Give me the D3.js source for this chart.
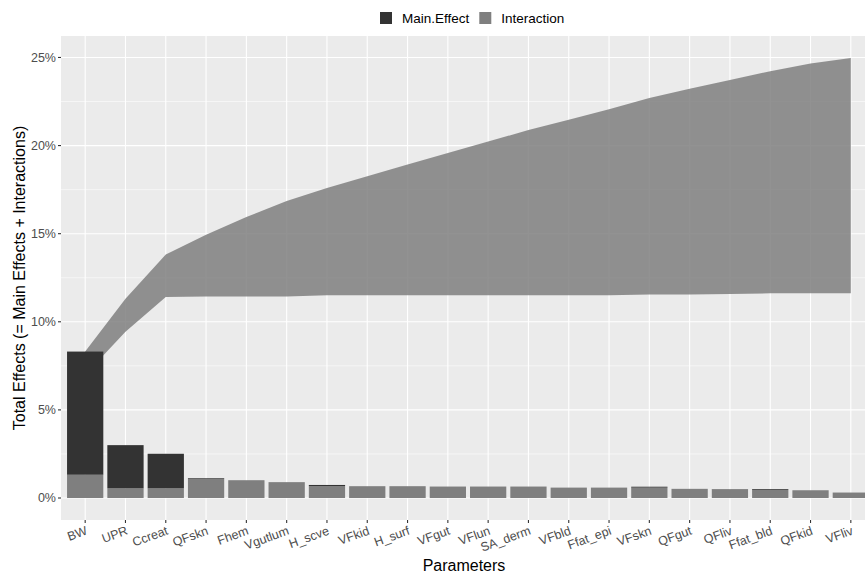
<!DOCTYPE html>
<html>
<head>
<meta charset="utf-8">
<script src="https://cdn.jsdelivr.net/npm/d3@7"></script>
<style>
  html, body { margin: 0; padding: 0; background: #ffffff; }
  svg { display: block; font-family: "Liberation Sans", Arial, sans-serif; }
</style>
</head>
<body>
<svg id="chart" width="865" height="577"></svg>
<script>
// Sensitivity parameters, ordered by total effect
const params = ["BW", "UPR", "Ccreat", "QFskn", "Fhem", "Vgutlum", "H_scve", "VFkid", "H_surf", "VFgut",
                "VFlun", "SA_derm", "VFbld", "Ffat_epi", "VFskn", "QFgut", "QFliv", "Ffat_bld", "QFkid", "VFliv"];
// Total effect (%) of each parameter
const totalEffect = [8.31, 3.00, 2.51, 1.12, 1.01, 0.90, 0.74, 0.67, 0.67, 0.65,
                     0.65, 0.65, 0.59, 0.59, 0.64, 0.52, 0.50, 0.50, 0.44, 0.31];
// Main (first-order) effect (%) of each parameter
const mainEffect = [6.99, 2.45, 1.96, 0.04, 0.00, 0.00, 0.06, 0.00, 0.00, 0.00,
                    0.00, 0.00, 0.00, 0.00, 0.05, 0.00, 0.02, 0.05, 0.00, 0.00];
const yTicks = [0, 5, 10, 15, 20, 25];
const legendLabels = ["Main.Effect", "Interaction"];

const colMain = "#333333", colInter = "#7f7f7f";

const rows = params.map((p, i) => ({
  param: p,
  main: mainEffect[i],
  inter: totalEffect[i] - mainEffect[i],
  total: totalEffect[i]
}));
// Running sums for the cumulative ribbon
let cm = 0, ct = 0;
rows.forEach(r => { cm += r.main; ct += r.total; r.cumMain = cm; r.cumTotal = ct; });

const svg = d3.select("#chart");
const panel = { left: 61, right: 875, top: 36, bottom: 520 };

const x = d3.scalePoint().domain(params).range([panel.left, panel.right]).padding(0.6);
const step = x.step();
const barW = step * 0.9;

const yMax = d3.max(rows, r => r.cumTotal);
const pad = yMax * 0.05;
const y = d3.scaleLinear().domain([-pad, yMax + pad]).range([panel.bottom, panel.top]);

// Panel background
svg.append("rect")
  .attr("x", panel.left).attr("y", panel.top)
  .attr("width", panel.right - panel.left).attr("height", panel.bottom - panel.top)
  .attr("fill", "#ebebeb");

// Grid
const minorTicks = d3.range(2.5, yMax + pad, 5);
svg.append("g").selectAll("line").data(minorTicks).join("line")
  .attr("x1", panel.left).attr("x2", panel.right)
  .attr("y1", d => y(d)).attr("y2", d => y(d))
  .attr("stroke", "#ffffff").attr("stroke-width", 0.55);
svg.append("g").selectAll("line").data(yTicks).join("line")
  .attr("x1", panel.left).attr("x2", panel.right)
  .attr("y1", d => y(d)).attr("y2", d => y(d))
  .attr("stroke", "#ffffff").attr("stroke-width", 1.1);
svg.append("g").selectAll("line").data(params).join("line")
  .attr("x1", d => x(d)).attr("x2", d => x(d))
  .attr("y1", panel.top).attr("y2", panel.bottom)
  .attr("stroke", "#ffffff").attr("stroke-width", 1.1);

// Cumulative ribbon: main effects (lower) to main + interactions (upper)
const area = d3.area()
  .x(r => x(r.param))
  .y0(r => y(r.cumMain))
  .y1(r => y(r.cumTotal));
svg.append("path").datum(rows)
  .attr("d", area)
  .attr("fill", "#7f7f7f").attr("fill-opacity", 0.85);

// Stacked bars: interaction at the bottom, main effect on top
const bars = svg.append("g");
bars.selectAll("rect.inter").data(rows).join("rect")
  .attr("class", "inter")
  .attr("x", r => x(r.param) - barW / 2).attr("width", barW)
  .attr("y", r => y(r.inter)).attr("height", r => y(0) - y(r.inter))
  .attr("fill", colInter);
bars.selectAll("rect.main").data(rows.filter(r => r.main > 0)).join("rect")
  .attr("class", "main")
  .attr("x", r => x(r.param) - barW / 2).attr("width", barW)
  .attr("y", r => y(r.total)).attr("height", r => y(r.inter) - y(r.total))
  .attr("fill", colMain);

// Y axis
const yAxis = svg.append("g");
yAxis.selectAll("line").data(yTicks).join("line")
  .attr("x1", panel.left - 3).attr("x2", panel.left)
  .attr("y1", d => y(d)).attr("y2", d => y(d))
  .attr("stroke", "#333333").attr("stroke-width", 1.1);
yAxis.selectAll("text").data(yTicks).join("text")
  .attr("x", panel.left - 5).attr("y", d => y(d))
  .attr("dy", "0.35em").attr("text-anchor", "end")
  .attr("font-size", 12.5).attr("fill", "#4d4d4d")
  .text(d => d + "%");

// X axis
const xAxis = svg.append("g");
xAxis.selectAll("line").data(params).join("line")
  .attr("x1", d => x(d)).attr("x2", d => x(d))
  .attr("y1", panel.bottom).attr("y2", panel.bottom + 3)
  .attr("stroke", "#333333").attr("stroke-width", 1.1);
xAxis.selectAll("text").data(params).join("text")
  .attr("transform", d => `translate(${x(d) + 3},${panel.bottom + 14}) rotate(-20)`)
  .attr("text-anchor", "end")
  .attr("font-size", 12.5).attr("fill", "#4d4d4d")
  .text(d => d);

// Axis titles
svg.append("text")
  .attr("x", (panel.left + panel.right) / 2 - 4).attr("y", 571)
  .attr("text-anchor", "middle").attr("font-size", 16).attr("fill", "#000000")
  .text("Parameters");
svg.append("text")
  .attr("transform", `translate(25,${(panel.top + panel.bottom) / 2}) rotate(-90)`)
  .attr("text-anchor", "middle").attr("font-size", 16).attr("fill", "#000000")
  .text("Total Effects (= Main Effects + Interactions)");

// Legend
const legend = svg.append("g");
const legendColors = [colMain, colInter];
let lx = 380;
legendLabels.forEach((lab, i) => {
  legend.append("rect")
    .attr("x", lx).attr("y", 12).attr("width", 12).attr("height", 12)
    .attr("fill", legendColors[i]);
  const t = legend.append("text")
    .attr("x", lx + 22).attr("y", 23)
    .attr("font-size", 13.5).attr("fill", "#000000")
    .text(lab);
  lx += 22 + t.node().getComputedTextLength() + 10;
});
</script>
</body>
</html>
